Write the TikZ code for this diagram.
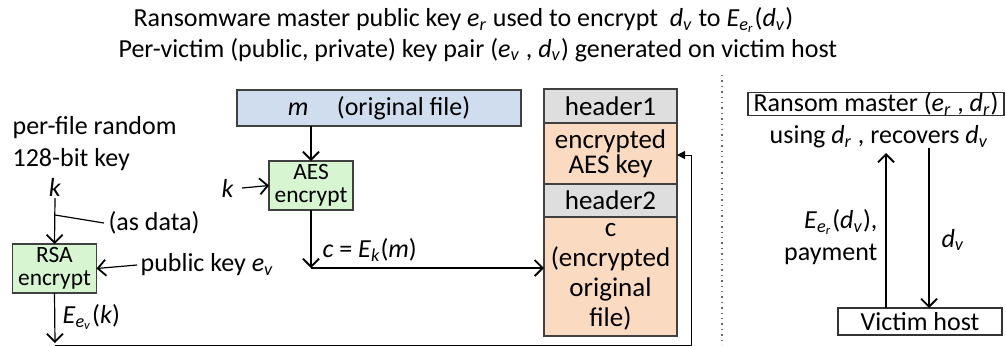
\documentclass[tikz,border=0pt]{standalone}
\usepackage{fontspec}
\setmainfont{Carlito}
\usetikzlibrary{arrows.meta, positioning, calc}
\definecolor{RWBlue}{HTML}{CFDDEF}
\definecolor{RWGreen}{HTML}{D6F5D0}
\definecolor{RWOrange}{HTML}{FADAC0}
\definecolor{RWGray}{HTML}{DEDEDE}
\definecolor{RWLine}{HTML}{404040}
% 斜体变量与下标
\newcommand{\iv}[2]{\textit{#1}\textsubscript{\textit{#2}}}

\begin{document}
\begin{tikzpicture}[
    % 全局设置: 1 单位 = 0.5pt
    x=0.5pt, y=-0.5pt,
    font=\fontsize{13}{16}\selectfont,
    line width=0.6pt,
    >={Straight Barb[length=4pt,width=8pt,line width=0.9pt]},
    % 样式定义
    box/.style={draw=RWLine, inner sep=0pt, outer sep=0pt, align=center},
    filebox/.style={box, fill=RWBlue, minimum width=142pt, minimum height=18pt},
    encbox/.style={box, fill=RWGreen, minimum width=42pt, minimum height=24.5pt,
        font=\fontsize{11.7}{11.5}\selectfont},
    hdrbox/.style={box, fill=RWGray, minimum width=66.5pt,
        font=\fontsize{13.5}{15}\selectfont},
    bodybox/.style={box, fill=RWOrange, minimum width=66.5pt},
    hostbox/.style={box, draw=black!80},
    labeltext/.style={inner sep=0pt, anchor=west}
]
    \useasboundingbox (0,0) rectangle (1006,345);

    % ====== 1. 顶部: 两行说明 ======
    \node[labeltext] (title1) at (133,20)
        {Ransomware master public key \iv{e}{r} used to encrypt\ \ \iv{d}{v} to \textit{E}\textsubscript{\iv{e}{r}}(\iv{d}{v})};
    \node[labeltext] (title2) at (118,50)
        {Per-victim (public, private) key pair (\iv{e}{v} , \iv{d}{v}) generated on victim host};

    % ====== 2. 中间: 原始文件与 AES 加密 ======
    \node[filebox] (mfile) at (379,108) {\textit{m}\hspace{1.1em}(original file)};
    \node[encbox] (aes) at (311,185.5) {AES\\encrypt};
    \node[labeltext] (kaes) at (221,188) {\textit{k}};
    \coordinate (corner) at (311,268);

    \draw[->] (aes.north |- mfile.south) -- (aes.north);
    \draw[->] (242,188) -- (aes.west);
    \draw[->] (aes.south) -- (corner);

    \node[labeltext] (ck) at (322,250) {\textit{c} = \textit{E}\textsubscript{\textit{k}}(\textit{m})};

    % ====== 3. 右侧: 加密后文件结构 (上下紧贴) ======
    \node[hdrbox, minimum height=17pt] (header1) at (610.5,106) {header1};
    \node[bodybox, minimum height=30.5pt, anchor=north,
        font=\fontsize{13.5}{12.5}\selectfont] (enckey) at (header1.south) {encrypted\\AES key};
    \node[hdrbox, minimum height=16.5pt, anchor=north] (header2) at (enckey.south) {header2};
    \node[bodybox, minimum height=59.5pt, anchor=north,
        font=\fontsize{13.5}{15}\selectfont] (cfile) at (header2.south) {c\\(encrypted\\original\\file)};

    \draw[->] (corner) -- (cfile.west |- corner);

    % ====== 4. 左侧: RSA 加密文件密钥 ======
    \node[labeltext, align=left, font=\fontsize{13}{16}\selectfont] (perfile) at (12,144)
        {per-file random\\128-bit key};
    \node (krsa) at (55,187) [inner sep=0pt] {\textit{k}};
    \node[encbox] (rsa) at (54.5,268.5) {RSA\\encrypt};
    \node[labeltext] (asdata) at (108,223) {(as data)};
    \node[labeltext] (pubkey) at (140,265) {public key \iv{e}{v}};
    \node[labeltext] (eev) at (62,317) {\textit{E}\textsubscript{\iv{e}{v}}(\textit{k})};
    \coordinate (tap) at (55,215);
    \coordinate (bl) at (55,345.4);
    \coordinate (br) at (691,345.4);
    \coordinate (rt) at (691,155);

    \draw[->] (55,198) -- (rsa.north);
    \draw (tap) -- ($(asdata.west)+(-4,0)$);
    \draw[->] ($(pubkey.west)+(-3,0)$) -- (rsa.east);
    \draw[->] (rsa.south) -- (55,343);

    % 回到加密的 AES 密钥
    \draw[-{Triangle[length=4pt,width=4pt]}, line width=0.5pt]
        (bl) -- (br) -- (rt) -- (enckey.east |- rt);

    % ====== 5. 分隔线与勒索者/受害者交互 ======
    \draw[dotted, line width=0.7pt, black!60] (722,75) -- (722,345);

    \node[hostbox, minimum width=128pt, minimum height=11pt] (master) at (876,104)
        {Ransom master (\iv{e}{r} , \iv{d}{r})};
    \node[inner sep=0pt] (recover) at (879,137) {using \iv{d}{r} , recovers \iv{d}{v}};
    \node[hostbox, minimum width=82pt, minimum height=13.5pt] (victim) at (920,321.5)
        {Victim host};
    \coordinate (uptop) at (886,153);
    \coordinate (dntop) at (929,148);

    \draw[->] (victim.north -| uptop) -- (uptop);
    \draw[->] (dntop) -- (victim.north -| dntop);

    \node[inner sep=0pt, anchor=east, align=right] (pay) at (878,237)
        {\textit{E}\textsubscript{\iv{e}{r}}(\iv{d}{v}),\\payment};
    \node[labeltext] (dv) at (941,240) {\iv{d}{v}};

\end{tikzpicture}
\end{document}
